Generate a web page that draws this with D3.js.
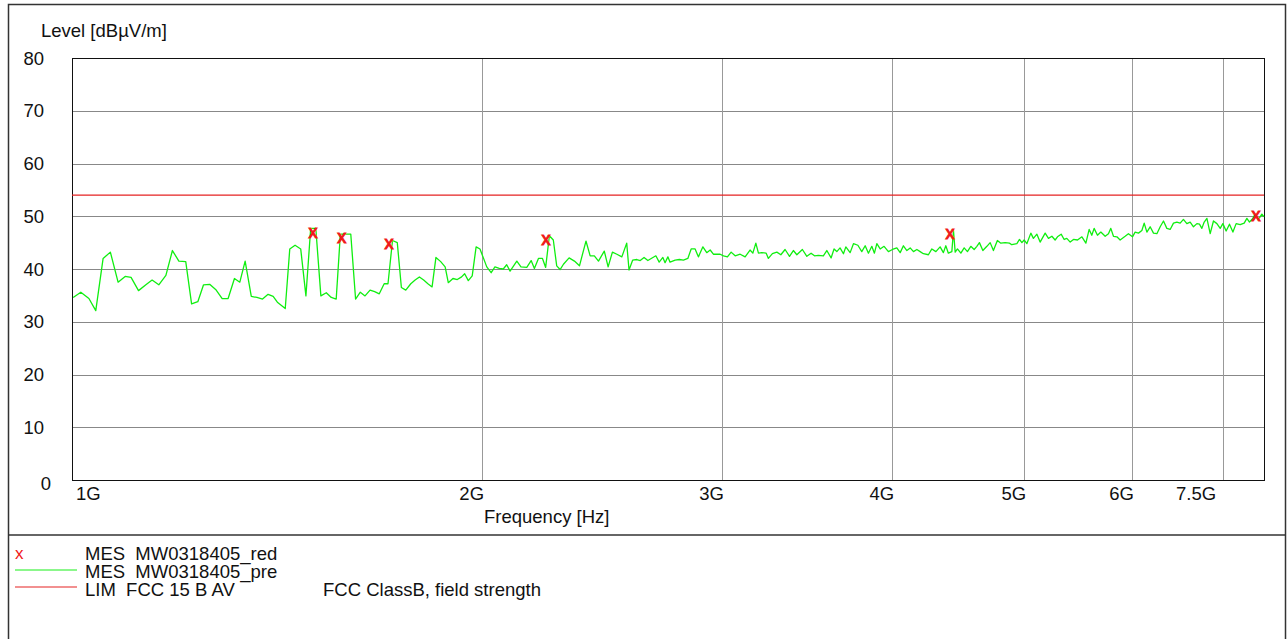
<!DOCTYPE html>
<html>
<head>
<meta charset="utf-8">
<script src="https://cdn.jsdelivr.net/npm/d3@7"></script>
<style>
  body { margin: 0; background: #fff; }
  text { font-family: "Liberation Sans", Arial, sans-serif; }
</style>
</head>
<body>
<div id="vis"></div>
<script>
// preview trace (MES MW0318405_pre): frequency in MHz, level in dBuV/m
const traceFreq = [
  1002, 1015, 1029, 1041, 1054, 1067, 1081, 1094, 1105, 1119, 1133, 1145, 1158, 1172, 1185, 1198,
  1212, 1224, 1237, 1249, 1262, 1276, 1289, 1302, 1316, 1328, 1340, 1354, 1367, 1380, 1393, 1405,
  1415, 1434, 1445, 1458, 1472, 1485, 1497, 1510, 1523, 1537, 1550, 1563, 1574, 1587, 1602, 1615,
  1628, 1641, 1655, 1668, 1681, 1695, 1706, 1719, 1733, 1745, 1758, 1773, 1786, 1799, 1812, 1825,
  1838, 1850, 1865, 1879, 1889, 1904, 1918, 1932, 1942, 1954, 1967, 1980, 1993, 2016, 2031, 2044,
  2059, 2073, 2085, 2097, 2121, 2136, 2157, 2173, 2185, 2200, 2215, 2227, 2241, 2256, 2269, 2282,
  2295, 2317, 2338, 2358, 2384, 2401, 2418, 2435, 2459, 2475, 2493, 2512, 2533, 2554, 2564, 2580,
  2598, 2613, 2630, 2647, 2683, 2698, 2715, 2725, 2738, 2748, 2772, 2792, 2811, 2832, 2848, 2867,
  2883, 2905, 2924, 2941, 2957, 2991, 3008, 3028, 3047, 3068, 3094, 3120, 3146, 3161, 3177, 3191,
  3209, 3233, 3245, 3267, 3292, 3314, 3338, 3363, 3385, 3405, 3437, 3463, 3488, 3508, 3531, 3561,
  3582, 3608, 3626, 3643, 3663, 3684, 3699, 3726, 3747, 3775, 3800, 3822, 3843, 3865, 3882, 3898,
  3920, 3946, 3975, 4002, 4032, 4055, 4077, 4101, 4124, 4147, 4171, 4194, 4217, 4253, 4278, 4307,
  4338, 4362, 4380, 4399, 4425, 4437, 4450, 4467, 4493, 4518, 4543, 4569, 4595, 4616, 4636, 4663,
  4695, 4721, 4747, 4779, 4807, 4842, 4877, 4897, 4939, 4961, 4981, 5000, 5023, 5057, 5079, 5109,
  5137, 5181, 5210, 5240, 5269, 5290, 5323, 5350, 5374, 5405, 5435, 5472, 5513, 5550, 5581, 5606,
  5628, 5660, 5692, 5734, 5766, 5789, 5815, 5849, 5881, 5931, 5964, 6005, 6032, 6066, 6101, 6125,
  6153, 6187, 6222, 6258, 6293, 6328, 6364, 6400, 6436, 6473, 6509, 6545, 6583, 6620, 6657, 6696,
  6725, 6752, 6779, 6810, 6848, 6886, 6926, 6965, 6996, 7035, 7075, 7116, 7155, 7204, 7253, 7286,
  7318, 7360, 7389, 7430, 7473, 7500
];
const traceLevel = [
  34.6, 35.6, 34.4, 32.1, 42.0, 43.2, 37.5, 38.6, 38.4, 35.9, 37.0, 37.9, 37.0, 38.8, 43.5, 41.5,
  41.4, 33.4, 33.8, 37.0, 37.1, 36.0, 34.4, 34.4, 38.2, 37.5, 41.5, 34.8, 34.6, 34.3, 35.2, 34.8,
  33.7, 32.5, 43.8, 44.5, 43.8, 34.9, 47.7, 47.7, 34.9, 35.5, 34.6, 34.3, 46.6, 46.6, 46.6, 34.3,
  35.6, 34.9, 36.0, 35.7, 35.3, 37.2, 37.2, 45.4, 45.0, 36.5, 36.0, 37.2, 37.9, 38.5, 37.9, 37.2,
  36.6, 42.2, 41.4, 40.4, 37.4, 38.2, 38.0, 38.5, 39.1, 37.8, 38.7, 44.2, 43.8, 40.4, 39.3, 40.4,
  40.1, 40.0, 40.8, 39.6, 41.5, 40.4, 40.3, 41.6, 40.1, 42.0, 42.0, 40.3, 46.3, 45.5, 40.6, 39.9,
  40.9, 42.1, 41.5, 40.6, 45.3, 42.5, 42.5, 41.5, 43.4, 40.4, 43.2, 42.8, 42.3, 44.9, 39.8, 41.7,
  41.8, 41.6, 42.2, 41.6, 42.5, 41.3, 42.2, 41.2, 42.3, 41.3, 41.7, 41.8, 41.7, 42.0, 43.8, 43.8,
  42.3, 44.2, 43.1, 43.6, 42.8, 42.8, 42.5, 42.3, 43.2, 42.5, 42.8, 42.3, 43.6, 43.0, 44.9, 43.0,
  43.1, 43.0, 42.0, 42.9, 43.2, 42.7, 43.7, 42.4, 43.5, 42.7, 43.7, 42.4, 43.0, 42.5, 42.6, 42.5,
  43.5, 42.1, 43.8, 43.3, 44.0, 42.9, 44.2, 43.1, 44.8, 44.5, 43.3, 44.4, 43.0, 44.3, 43.0, 44.8,
  43.8, 44.3, 43.3, 43.7, 44.0, 43.1, 44.4, 43.5, 44.0, 43.3, 43.7, 43.3, 42.9, 42.7, 43.8, 43.3,
  44.2, 43.1, 44.4, 43.0, 43.3, 47.3, 43.2, 43.8, 43.0, 44.0, 43.3, 44.3, 43.7, 44.3, 45.0, 43.5,
  44.3, 45.0, 43.5, 45.4, 44.9, 45.0, 44.9, 44.6, 44.8, 45.6, 45.0, 45.5, 44.8, 46.8, 45.8, 46.6,
  45.1, 46.8, 45.8, 46.2, 45.5, 46.1, 46.6, 45.6, 45.8, 45.1, 45.6, 45.5, 46.1, 44.9, 47.5, 46.4,
  47.7, 46.4, 47.0, 46.2, 46.7, 47.7, 46.2, 46.1, 45.5, 46.2, 46.7, 46.1, 47.0, 46.8, 47.3, 48.7,
  47.0, 48.0, 46.8, 46.7, 48.0, 49.1, 47.7, 47.5, 48.7, 48.9, 48.7, 49.4, 48.6, 48.9, 48.0, 48.6,
  48.5, 47.7, 48.9, 49.6, 46.7, 49.1, 48.6, 47.7, 48.6, 47.2, 48.5, 47.0, 48.6, 48.4, 48.7, 49.6,
  48.9, 49.6, 50.4, 49.4, 50.4, 49.9
];

// final measurement points (MES MW0318405_red)
const markerFreq = [1503, 1578, 1709, 2228, 4412, 7400];
const markerLevel = [46.8, 45.9, 44.7, 45.5, 46.6, 50.0];

// limit line (LIM FCC 15 B AV)
const limitFreq = [1000, 7500];
const limitLevel = [54, 54];

const yTicks = [0, 10, 20, 30, 40, 50, 60, 70, 80];
const xGrid = [2000, 3000, 4000, 5000, 6000, 7000];
const xTickFreq = [1000, 2000, 3000, 4000, 5000, 6000, 7000];
const xTickText = ['1G', '2G', '3G', '4G', '5G', '6G', '7.5G'];

const width = 1287;
const height = 639;
const plot = { left: 72, right: 1264, top: 58, bottom: 480 };
const fontSize = 18.5;

const svg = d3.select('#vis')
    .append('svg')
    .attr('width', width)
    .attr('height', height);

const x = d3.scaleLog()
    .domain([1000, 7500])
    .range([plot.left, plot.right]);

const y = d3.scaleLinear()
    .domain([0, 80])
    .range([plot.bottom, plot.top]);

// outer frame + separator above legend
svg.append('rect')
    .attr('x', 8.5)
    .attr('y', 4.5)
    .attr('width', 1277)
    .attr('height', 660)
    .attr('fill', 'none')
    .attr('stroke', '#333')
    .attr('stroke-width', 1.5);

svg.append('line')
    .attr('x1', 8.5).attr('x2', 1285.5)
    .attr('y1', 535).attr('y2', 535)
    .attr('stroke', '#333')
    .attr('stroke-width', 1.5);

// grid
svg.append('g')
    .selectAll('line')
    .data(yTicks.slice(1, -1))
    .join('line')
    .attr('x1', plot.left).attr('x2', plot.right)
    .attr('y1', d => Math.round(y(d)) + 0.5)
    .attr('y2', d => Math.round(y(d)) + 0.5)
    .attr('stroke', '#888')
    .attr('stroke-width', 1);

svg.append('g')
    .selectAll('line')
    .data(xGrid)
    .join('line')
    .attr('x1', d => Math.round(x(d)) + 0.5)
    .attr('x2', d => Math.round(x(d)) + 0.5)
    .attr('y1', plot.top).attr('y2', plot.bottom)
    .attr('stroke', '#999')
    .attr('stroke-width', 1);

// plot frame
svg.append('rect')
    .attr('x', plot.left + 0.5)
    .attr('y', plot.top + 0.5)
    .attr('width', plot.right - plot.left)
    .attr('height', plot.bottom - plot.top)
    .attr('fill', 'none')
    .attr('stroke', '#111')
    .attr('stroke-width', 1);

// y tick labels
svg.append('g')
    .selectAll('text')
    .data(yTicks)
    .join('text')
    .attr('x', d => d === 0 ? 51 : 44)
    .attr('y', d => d === 0 ? y(d) + 10 : y(d) + 6.5)
    .attr('text-anchor', 'end')
    .attr('font-size', fontSize)
    .attr('fill', '#111')
    .text(d => d);

// x tick labels
svg.append('g')
    .selectAll('text')
    .data(xTickFreq)
    .join('text')
    .attr('x', (d, i) => i === 0 ? x(d) + 4 : (i === xTickFreq.length - 1 ? x(d) - 7 : x(d) + 2))
    .attr('y', 500)
    .attr('text-anchor', (d, i) => i === 0 ? 'start' : 'end')
    .attr('font-size', fontSize)
    .attr('fill', '#111')
    .text((d, i) => xTickText[i]);

// axis titles
svg.append('text')
    .attr('x', 41)
    .attr('y', 37)
    .attr('font-size', fontSize)
    .attr('fill', '#111')
    .text('Level [dBµV/m]');

svg.append('text')
    .attr('x', 484)
    .attr('y', 523)
    .attr('font-size', fontSize)
    .attr('fill', '#111')
    .text('Frequency [Hz]');

// limit line
const limitData = limitFreq.map((f, i) => ({ f, v: limitLevel[i] }));
svg.append('path')
    .datum(limitData)
    .attr('fill', 'none')
    .attr('stroke', '#e52222')
    .attr('stroke-width', 1.2)
    .attr('d', d3.line().x(d => x(d.f)).y(d => y(d.v)));

// preview trace
const traceData = traceFreq.map((f, i) => ({ f, v: traceLevel[i] }));
svg.append('path')
    .datum(traceData)
    .attr('fill', 'none')
    .attr('stroke', '#10ee10')
    .attr('stroke-width', 1.3)
    .attr('stroke-linejoin', 'round')
    .attr('d', d3.line().x(d => x(d.f)).y(d => y(d.v)));

// final measurement markers
svg.append('g')
    .selectAll('text')
    .data(markerFreq)
    .join('text')
    .attr('x', d => x(d))
    .attr('y', (d, i) => y(markerLevel[i]) + 5)
    .attr('text-anchor', 'middle')
    .attr('font-size', 18)
    .attr('fill', '#f01818')
    .attr('stroke', '#f01818')
    .attr('stroke-width', 1)
    .text('x');

// legend
const legend = svg.append('g');

legend.append('text')
    .attr('x', 15).attr('y', 559)
    .attr('font-size', 17)
    .attr('fill', '#f01818')
    .text('x');

legend.append('line')
    .attr('x1', 15).attr('x2', 77)
    .attr('y1', 570).attr('y2', 570)
    .attr('stroke', '#18f018')
    .attr('stroke-width', 1.2);

legend.append('line')
    .attr('x1', 15).attr('x2', 77)
    .attr('y1', 587).attr('y2', 587)
    .attr('stroke', '#e52222')
    .attr('stroke-width', 1.2);

const legendRows = [
    { y: 560, text: 'MES\u00a0\u00a0MW0318405_red' },
    { y: 578, text: 'MES\u00a0\u00a0MW0318405_pre' },
    { y: 596, text: 'LIM\u00a0\u00a0FCC 15 B AV' }
];

legend.selectAll('text.row')
    .data(legendRows)
    .join('text')
    .attr('class', 'row')
    .attr('x', 85)
    .attr('y', d => d.y)
    .attr('font-size', fontSize)
    .attr('fill', '#111')
    .text(d => d.text);

legend.append('text')
    .attr('x', 323)
    .attr('y', 596)
    .attr('font-size', fontSize)
    .attr('fill', '#111')
    .text('FCC ClassB, field strength');
</script>
</body>
</html>
